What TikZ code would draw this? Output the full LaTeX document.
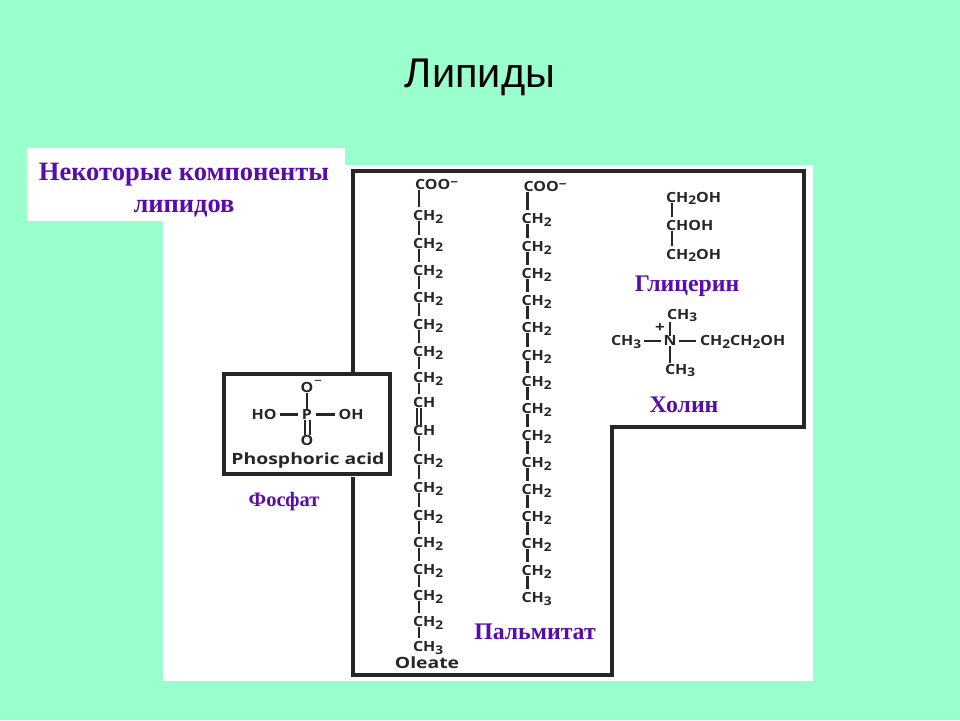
\documentclass[tikz,border=0pt]{standalone}
\usepackage{fontspec}
\setmainfont{Liberation Serif}
\newfontfamily\titlefont{Liberation Sans}
\newfontfamily\chemfont[FakeStretch=1.14]{Open Sans}
\newfontfamily\namefont[FakeStretch=1.25]{Open Sans}
\usetikzlibrary{positioning}
\definecolor{slidebg}{RGB}{153,255,204}
\definecolor{labelpurple}{RGB}{88,12,170}
\definecolor{inkdark}{RGB}{38,38,38}
\newcommand{\subnum}[1]{\raisebox{-2.5pt}{\fontsize{12}{12}\selectfont #1}}
\newcommand{\chtwo}{CH\subnum{2}}
\newcommand{\chthree}{CH\subnum{3}}
\newcommand{\cooneg}{\hspace{2pt}COO\raisebox{3.5pt}{\fontsize{12}{12}\selectfont\textminus}}

\begin{document}
\begin{tikzpicture}[
    x=1pt, y=-1pt,
    atom/.style={
        inner sep=0pt,
        outer sep=0pt,
        anchor=west,
        text=inkdark,
        text height=9.5pt,
        text depth=0.5pt,
        font=\chemfont\bfseries\fontsize{14}{15}\selectfont
    },
    centeratom/.style={
        atom,
        anchor=center
    },
    nameatom/.style={
        centeratom,
        font=\namefont\bfseries\fontsize{15.5}{16}\selectfont
    },
    bond/.style={
        draw=inkdark,
        line width=2.4pt
    },
    chainbond/.style={
        bond,
        shorten >=4pt
    },
    frameline/.style={
        draw=inkdark,
        line width=4pt,
        line join=miter
    },
    caption/.style={
        inner sep=0pt,
        text=labelpurple,
        align=center,
        font=\bfseries\fontsize{23.8}{28}\selectfont
    }
]
\useasboundingbox (0,0) rectangle (960,720);

%% Background
\fill[slidebg] (0,0) rectangle (960,720);
\fill[white] (163,165) rectangle (813,681);
\fill[white] (27,148) rectangle (345,221);

%% Title
\node[inner sep=0pt, font=\titlefont\fontsize{41.5}{48}\selectfont] (title) at (480,77) {Липиды};
\node[caption, font=\bfseries\fontsize{26.5}{32}\selectfont] (heading) at (184,190) {Некоторые компоненты\\липидов};

%% Frame
\draw[frameline] (353,373) -- (353,171) -- (804,171) -- (804,427) -- (612,427) -- (612,675) -- (353,675) -- (353,477);

%% Phosphate box
\node[draw=inkdark, line width=4pt, fill=white, minimum width=166pt, minimum height=100pt, inner sep=0pt] (phosbox) at (307,424) {};
\node[centeratom] (phos_p) at (307,414.5) {P};
\node[centeratom] (phos_ot) at (307,388) {O};
\node[inner sep=0pt, font=\bfseries\fontsize{14}{14}\selectfont, text=inkdark] (phos_minus) at (318,383) {\textminus};
\node[centeratom] (phos_ob) at (307,441) {O};
\node[centeratom] (phos_ho) at (264,414.5) {HO};
\node[centeratom] (phos_oh) at (351,414.5) {OH};
\node[nameatom] (phos_name) at (308,460) {Phosphoric acid};
\draw[bond] (phos_ot) -- (phos_p);
\draw[bond, shorten >=4pt, shorten <=4pt] (phos_ho) -- (phos_p);
\draw[bond, shorten >=4pt, shorten <=4pt] (phos_p) -- (phos_oh);
\draw[bond, line width=2pt, shorten >=1pt] ([xshift=-2.5pt]phos_p.south) -- ([xshift=-2.5pt]phos_ob.north);
\draw[bond, line width=2pt, shorten >=1pt] ([xshift=2.5pt]phos_p.south) -- ([xshift=2.5pt]phos_ob.north);
\node[caption, font=\bfseries\fontsize{20.5}{24}\selectfont] (phos_label) at (284,502) {Фосфат};

%% Oleate chain
\foreach \ypos/\grp [count=\i] in {185/\cooneg, 216/\chtwo, 244/\chtwo, 271/\chtwo, 298/\chtwo, 325/\chtwo, 352/\chtwo, 378/\chtwo, 403/CH, 431/CH, 460/\chtwo, 488/\chtwo, 516/\chtwo, 543/\chtwo, 570/\chtwo, 596/\chtwo, 622/\chtwo, 647/\chthree}
    \node[atom] (ole\i) at (413,\ypos) {\grp};
\foreach \a [evaluate=\a as \b using int(\a+1)] in {1,...,8,10,11,...,17}
    \draw[chainbond] ([xshift=6pt]ole\a.south west) -- ([xshift=6pt]ole\b.north west);
\draw[bond, line width=2pt, shorten >=1pt] ([xshift=4pt]ole9.south west) -- ([xshift=4pt]ole10.north west);
\draw[bond, line width=2pt, shorten >=1pt] ([xshift=8pt]ole9.south west) -- ([xshift=8pt]ole10.north west);
\node[nameatom] (ole_name) at (427,664) {Oleate};

%% Palmitate chain
\foreach \ypos/\grp [count=\i] in {187/\cooneg, 219/\chtwo, 247/\chtwo, 274/\chtwo, 301/\chtwo, 328/\chtwo, 356/\chtwo, 382/\chtwo, 409/\chtwo, 436/\chtwo, 463/\chtwo, 490/\chtwo, 517/\chtwo, 544/\chtwo, 571/\chtwo, 598/\chthree}
    \node[atom] (pal\i) at (521.5,\ypos) {\grp};
\foreach \a [evaluate=\a as \b using int(\a+1)] in {1,...,15}
    \draw[chainbond] ([xshift=6pt]pal\a.south west) -- ([xshift=6pt]pal\b.north west);
\node[caption] (pal_label) at (535,632) {Пальмитат};

%% Glycerol
\node[atom] (gly1) at (666,197.5) {\chtwo OH};
\node[atom] (gly2) at (666,225.5) {CHOH};
\node[atom] (gly3) at (666,254.5) {\chtwo OH};
\draw[chainbond] ([xshift=6pt]gly1.south west) -- ([xshift=6pt]gly2.north west);
\draw[chainbond] ([xshift=6pt]gly2.south west) -- ([xshift=6pt]gly3.north west);
\node[caption] (gly_label) at (687,286) {Глицерин};

%% Choline
\node[centeratom] (cho_n) at (670,341) {N};
\node[atom] (cho_top) at (667,314.5) {\chthree};
\node[atom] (cho_bot) at (665,369.5) {\chthree};
\node[atom] (cho_left) at (611,341) {\chthree};
\node[atom] (cho_right) at (700,341) {\chtwo CH\subnum{2}OH};
\node[inner sep=0pt, font=\chemfont\bfseries\fontsize{15}{15}\selectfont, text=inkdark] (cho_plus) at (660,328) {+};
\draw[bond, shorten >=2pt] (cho_n.north) -- ([xshift=3pt]cho_top.south west);
\draw[bond, shorten >=2pt] (cho_n.south) -- ([xshift=5pt]cho_bot.north west);
\draw[bond, shorten >=3pt, shorten <=3pt] (cho_left.east) -- (cho_n.west);
\draw[bond, shorten >=4pt, shorten <=3pt] (cho_n.east) -- (cho_right.west);
\node[caption] (cho_label) at (684,405) {Холин};

\end{tikzpicture}
\end{document}
